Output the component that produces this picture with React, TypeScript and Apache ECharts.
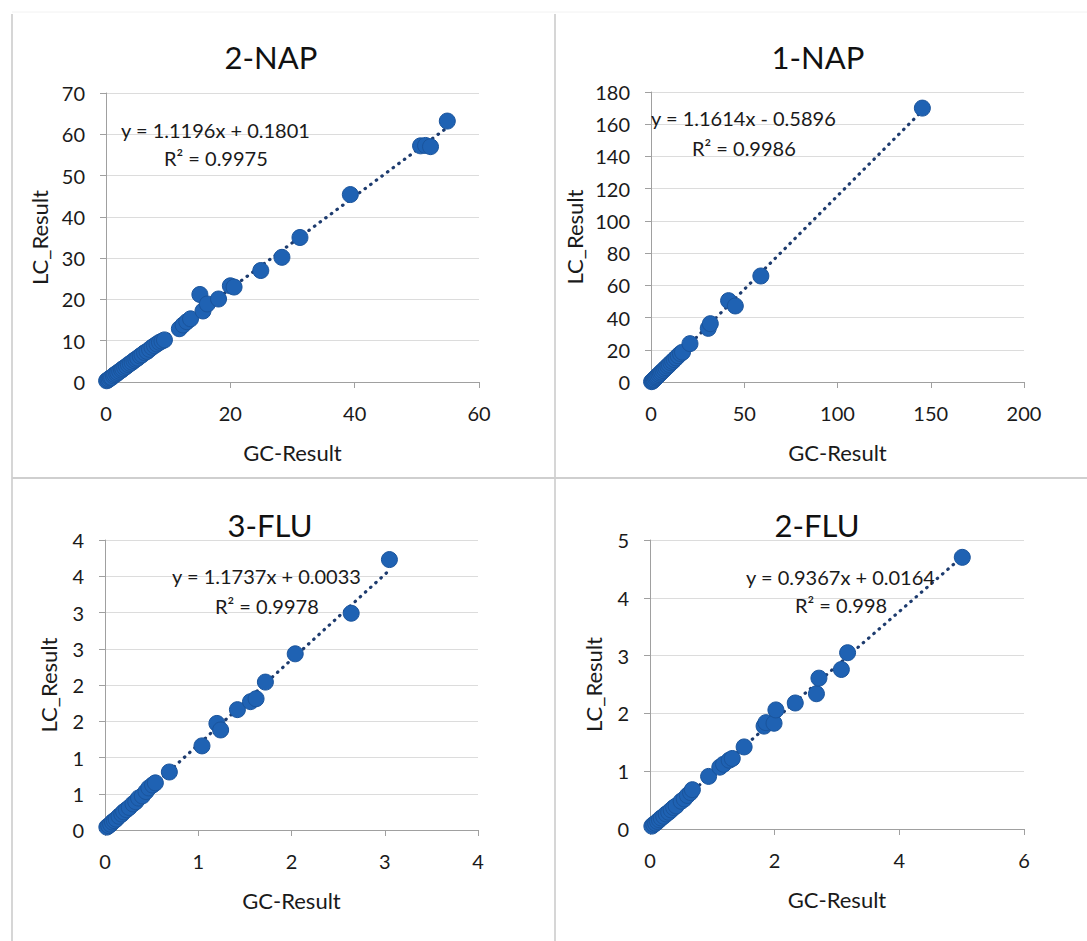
import { useEffect, useRef } from 'react';
import * as echarts from 'echarts';

// ---- data ----
const panelTitles = ['2-NAP', '1-NAP', '3-FLU', '2-FLU'];
const xAxisName = 'GC-Result';
const yAxisName = 'LC_Result';

const nap2GC = [0.1, 0.3, 0.5, 0.7, 0.9, 1.2, 1.4, 1.7, 1.9, 2.2, 2.5, 2.7, 3.0, 3.3, 3.6, 3.9, 4.2, 4.5, 4.8, 5.1, 5.5, 5.8, 6.2, 6.6, 7.0, 7.4, 7.8, 8.2, 8.6, 9.0, 9.4, 11.8, 12.4, 13.0, 13.6, 15.1, 15.6, 16.3, 18.1, 20.0, 20.6, 24.9, 28.3, 31.2, 39.3, 50.6, 51.4, 52.2, 54.9];
const nap2LC = [0.3, 0.5, 0.7, 1.0, 1.1, 1.5, 1.8, 2.0, 2.3, 2.6, 2.9, 3.2, 3.5, 3.8, 4.2, 4.5, 4.8, 5.2, 5.5, 5.8, 6.3, 6.6, 7.1, 7.4, 7.9, 8.4, 8.8, 9.2, 9.6, 9.9, 10.2, 12.9, 13.8, 14.6, 15.3, 21.2, 17.2, 18.9, 20.1, 23.3, 23.0, 27.0, 30.2, 35.0, 45.4, 57.2, 57.3, 57.0, 63.2];

const nap1GC = [0.3, 0.8, 1.3, 1.8, 2.4, 3.0, 3.6, 4.3, 5.0, 5.7, 6.5, 7.3, 8.1, 9.0, 9.8, 10.7, 11.6, 12.5, 13.5, 14.6, 15.8, 16.9, 20.9, 30.7, 31.8, 41.6, 45.2, 58.9, 145.5];
const nap1LC = [0.2, 0.6, 1.2, 1.7, 2.5, 3.1, 3.8, 4.6, 5.4, 6.2, 7.1, 8.0, 8.9, 9.9, 10.8, 11.9, 12.8, 13.9, 15.0, 16.3, 17.6, 18.5, 23.8, 33.3, 36.2, 50.5, 47.2, 65.8, 170.0];

const flu3GC = [0.02, 0.04, 0.06, 0.08, 0.10, 0.12, 0.15, 0.18, 0.20, 0.23, 0.26, 0.30, 0.33, 0.36, 0.40, 0.44, 0.47, 0.51, 0.54, 0.69, 1.04, 1.20, 1.24, 1.42, 1.56, 1.62, 1.72, 2.04, 2.64, 3.05];
const flu3LC = [0.04, 0.06, 0.08, 0.11, 0.13, 0.15, 0.19, 0.22, 0.25, 0.28, 0.31, 0.36, 0.39, 0.44, 0.47, 0.53, 0.58, 0.62, 0.65, 0.80, 1.16, 1.47, 1.38, 1.66, 1.77, 1.81, 2.04, 2.43, 2.99, 3.73];

const flu2GC = [0.03, 0.06, 0.09, 0.12, 0.15, 0.18, 0.22, 0.26, 0.30, 0.34, 0.38, 0.42, 0.50, 0.55, 0.60, 0.65, 0.68, 0.94, 1.12, 1.18, 1.27, 1.32, 1.51, 1.83, 1.86, 1.99, 2.02, 2.33, 2.67, 2.71, 3.07, 3.17, 5.01];
const flu2LC = [0.05, 0.08, 0.10, 0.13, 0.16, 0.19, 0.22, 0.26, 0.29, 0.33, 0.37, 0.40, 0.48, 0.52, 0.58, 0.63, 0.68, 0.91, 1.07, 1.12, 1.19, 1.22, 1.42, 1.78, 1.84, 1.83, 2.06, 2.18, 2.34, 2.61, 2.76, 3.05, 4.70];

const gcSets = [nap2GC, nap1GC, flu3GC, flu2GC];
const lcSets = [nap2LC, nap1LC, flu3LC, flu2LC];

const trendSlopes = [1.1196, 1.1614, 1.1737, 0.9367];
const trendIntercepts = [0.1801, -0.5896, 0.0033, 0.0164];
const equationLabels = ['y = 1.1196x + 0.1801', 'y = 1.1614x - 0.5896', 'y = 1.1737x + 0.0033', 'y = 0.9367x + 0.0164'];
const r2Labels = ['R\u00B2 = 0.9975', 'R\u00B2 = 0.9986', 'R\u00B2 = 0.9978', 'R\u00B2 = 0.998'];

const xMaxes = [60, 200, 4, 6];
const xIntervals = [20, 50, 1, 2];
const yMaxes = [70, 180, 4, 5];
const yIntervals = [10, 20, 0.5, 1];
const flu3YTickLabels = ['0', '1', '1', '2', '2', '3', '3', '4', '4'];

// ---- layout ----
const grids = [
  { left: 106, top: 93, width: 373, height: 289 },
  { left: 651, top: 92, width: 373, height: 290 },
  { left: 105, top: 540, width: 373, height: 290 },
  { left: 650, top: 540, width: 374, height: 289 },
];
const titlePos = [[271, 57], [818, 57], [270, 525], [817, 525]];
const eqPos = [[121, 130], [651, 118], [172, 576], [746, 577]];
const r2Pos = [[164, 158], [692, 148], [215, 606], [795, 605]];
const yNameGaps = [56, 66, 46, 46];

const FONT = 'Lato, "Open Sans", sans-serif';
const TEXT = '#1a1a1a';
const MARKER = '#1F62B3';
const TREND = '#1D3B6E';

export default function App() {
  const ref = useRef<HTMLDivElement>(null);
  useEffect(() => {
    if (!ref.current) return;
    const chart = echarts.init(ref.current, undefined, { renderer: 'svg' });

    const xAxis = grids.map((_, i) => ({
      type: 'value',
      gridIndex: i,
      min: 0,
      max: xMaxes[i],
      interval: xIntervals[i],
      name: xAxisName,
      nameLocation: 'middle',
      nameGap: 59,
      nameTextStyle: { color: TEXT, fontSize: 22, fontFamily: FONT },
      axisLine: { show: true, lineStyle: { color: '#a0a0a0', width: 1 } },
      axisTick: { show: true, length: 6, lineStyle: { color: '#a0a0a0' } },
      axisLabel: { color: TEXT, fontSize: 20, fontFamily: FONT, margin: 21 },
      splitLine: { show: false },
    }));

    const yAxis = grids.map((_, i) => ({
      type: 'value',
      gridIndex: i,
      min: 0,
      max: yMaxes[i],
      interval: yIntervals[i],
      name: yAxisName,
      nameLocation: 'middle',
      nameGap: yNameGaps[i],
      nameTextStyle: { color: TEXT, fontSize: 22, fontFamily: FONT },
      axisLine: { show: true, lineStyle: { color: '#a0a0a0', width: 1 } },
      axisTick: { show: true, length: 6, lineStyle: { color: '#a0a0a0' } },
      axisLabel: {
        color: TEXT,
        fontSize: 20,
        fontFamily: FONT,
        margin: 21,
        formatter: i === 2 ? (v: number) => flu3YTickLabels[Math.round(v / 0.5)] : undefined,
      },
      splitLine: { show: true, lineStyle: { color: '#dcdcdc', width: 1 } },
    }));

    const series: any[] = [];
    gcSets.forEach((gc, i) => {
      const lo = Math.min(...gc);
      const hi = Math.max(...gc);
      series.push({
        type: 'line',
        xAxisIndex: i,
        yAxisIndex: i,
        data: [
          [lo, trendSlopes[i] * lo + trendIntercepts[i]],
          [hi, trendSlopes[i] * hi + trendIntercepts[i]],
        ],
        symbol: 'none',
        z: 1,
        lineStyle: { color: TREND, width: 3.2, type: [0.5, 6.5], cap: 'round' },
        silent: true,
      });
      series.push({
        type: 'scatter',
        xAxisIndex: i,
        yAxisIndex: i,
        data: gc.map((x, k) => [x, lcSets[i][k]]),
        symbolSize: 16,
        z: 3,
        itemStyle: { color: MARKER, opacity: 1, borderColor: '#1A549C', borderWidth: 1 },
      });
    });

    const graphic: any[] = [];
    const border = (x1: number, y1: number, x2: number, y2: number, c = '#d6d6d6', w = 2) => ({
      type: 'line', shape: { x1, y1, x2, y2 }, style: { stroke: c, lineWidth: w }, silent: true,
    });
    graphic.push(border(12, 14, 12, 941));
    graphic.push(border(555, 14, 555, 941));
    graphic.push(border(12, 478, 1087, 478, '#cfcfcf', 2));
    graphic.push(border(12, 12, 1087, 12, '#f2f2f2', 1));

    panelTitles.forEach((t, i) => {
      graphic.push({
        type: 'text', x: titlePos[i][0], y: titlePos[i][1], silent: true,
        style: { text: t, fill: '#111', fontSize: 31, fontFamily: FONT, textAlign: 'center', textVerticalAlign: 'middle' },
      });
      graphic.push({
        type: 'text', x: eqPos[i][0], y: eqPos[i][1], silent: true, z: 10,
        style: { text: equationLabels[i], fill: TEXT, fontSize: 20, fontFamily: FONT, textAlign: 'left', textVerticalAlign: 'middle' },
      });
      graphic.push({
        type: 'text', x: r2Pos[i][0], y: r2Pos[i][1], silent: true, z: 10,
        style: { text: r2Labels[i], fill: TEXT, fontSize: 20, fontFamily: FONT, textAlign: 'left', textVerticalAlign: 'middle' },
      });
    });

    chart.setOption({
      animation: false,
      backgroundColor: '#ffffff',
      grid: grids.map((g) => ({ ...g, containLabel: false })),
      xAxis,
      yAxis,
      series,
      graphic,
    });
    return () => chart.dispose();
  }, []);

  return (
    <div
      ref={ref}
      style={{ position: 'absolute', left: 0, top: 0, width: 1087, height: 941, background: '#fff' }}
    />
  );
}
